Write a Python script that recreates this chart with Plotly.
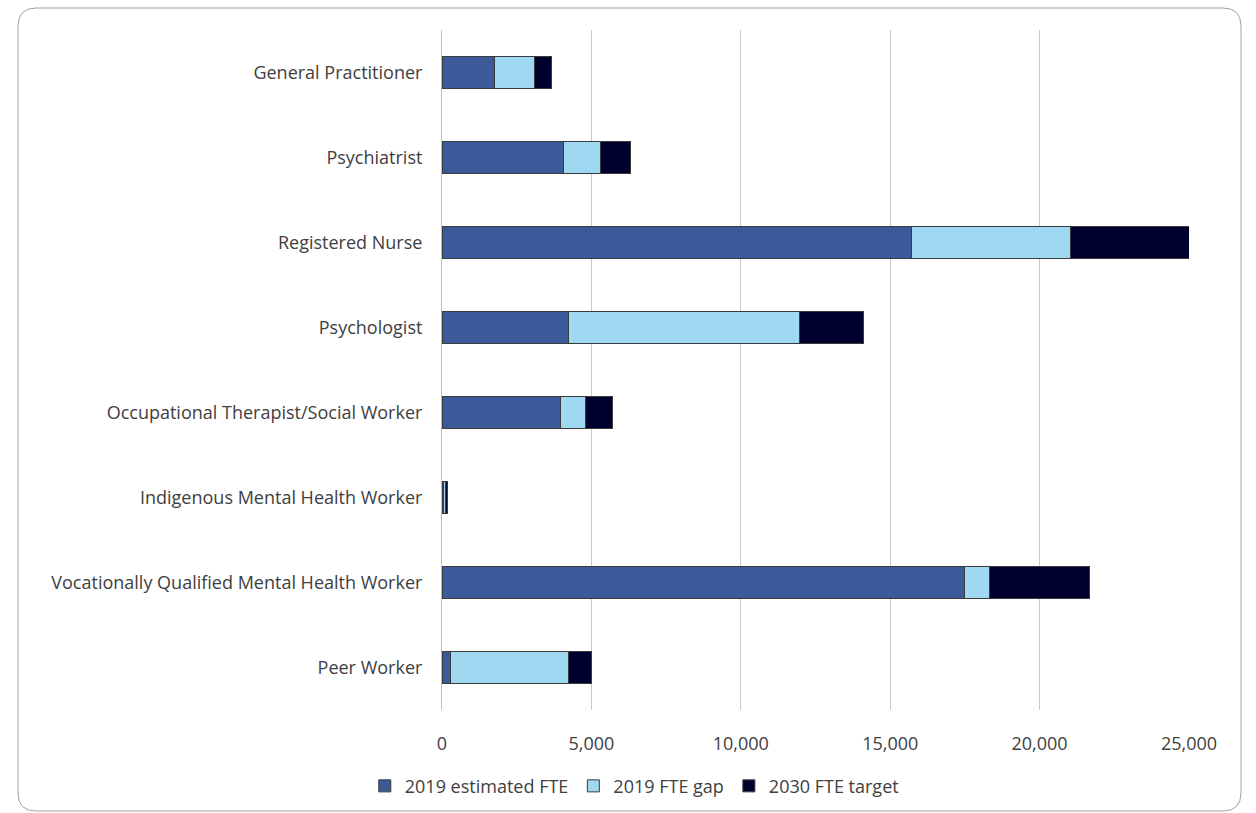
import plotly.graph_objects as go

categories = ["General Practitioner", "Psychiatrist", "Registered Nurse", "Psychologist",
              "Occupational Therapist/Social Worker", "Indigenous Mental Health Worker",
              "Vocationally Qualified Mental Health Worker", "Peer Worker"]
estimated_2019 = [1760, 4070, 15720, 4240, 3960, 60, 17480, 280]
gap_2019 = [1330, 1230, 5300, 7740, 850, 60, 850, 3940]
target_2030 = [570, 1000, 3980, 2140, 890, 80, 3350, 780]
series_names = ["2019 estimated FTE", "2019 FTE gap", "2030 FTE target"]
colors = ["#3B5A9A", "#9FD8F1", "#00002E"]

fig = go.Figure()
for name, vals, col in zip(series_names, [estimated_2019, gap_2019, target_2030], colors):
    fig.add_trace(go.Bar(
        y=categories, x=vals, name=name, orientation="h",
        marker=dict(color=col, line=dict(color="#3a3a3a", width=1)),
    ))

L, R, T, B = 442, 1189, 30, 710
W, H = 1256, 813
pw, ph = R - L, B - T

def px(x):
    return (x - L) / pw

def py(y):
    return (B - y) / ph

x0, x1, y0, y1, r = 18, 1241, 8, 811, 18
path = (f"M {px(x0+r)},{py(y0)} L {px(x1-r)},{py(y0)} Q {px(x1)},{py(y0)} {px(x1)},{py(y0+r)} "
        f"L {px(x1)},{py(y1-r)} Q {px(x1)},{py(y1)} {px(x1-r)},{py(y1)} "
        f"L {px(x0+r)},{py(y1)} Q {px(x0)},{py(y1)} {px(x0)},{py(y1-r)} "
        f"L {px(x0)},{py(y0+r)} Q {px(x0)},{py(y0)} {px(x0+r)},{py(y0)} Z")

fs = 18
fig.update_layout(
    barmode="stack",
    bargap=0.63,
    width=W, height=H,
    margin=dict(l=L, r=W - R, t=T, b=H - B, pad=0),
    paper_bgcolor="white", plot_bgcolor="white",
    font=dict(family="Open Sans, Liberation Sans, Arial", size=fs, color="#404040"),
    xaxis=dict(range=[0, 25000], dtick=5000, tickformat=",", showgrid=True,
               gridcolor="#C8C8C8", gridwidth=1, zeroline=False,
               showline=False, ticks="outside", ticklen=17, tickcolor="rgba(0,0,0,0)",
               tickfont=dict(size=fs, color="#404040")),
    yaxis=dict(autorange="reversed", showline=True, linecolor="#C0C0C0", linewidth=1,
               ticks="outside", ticklen=15, tickcolor="rgba(0,0,0,0)",
               tickfont=dict(size=fs, color="#404040")),
    legend=dict(orientation="h", xref="container", yref="container", x=0.505, y=0.033,
                xanchor="center", yanchor="middle", font=dict(size=18, color="#404040"),
                itemwidth=30, traceorder="normal"),
    shapes=[dict(type="path", xref="paper", yref="paper", path=path,
                 line=dict(color="#A0A0A0", width=1), fillcolor="rgba(0,0,0,0)", layer="below")],
)

fig.write_html("out.html")
